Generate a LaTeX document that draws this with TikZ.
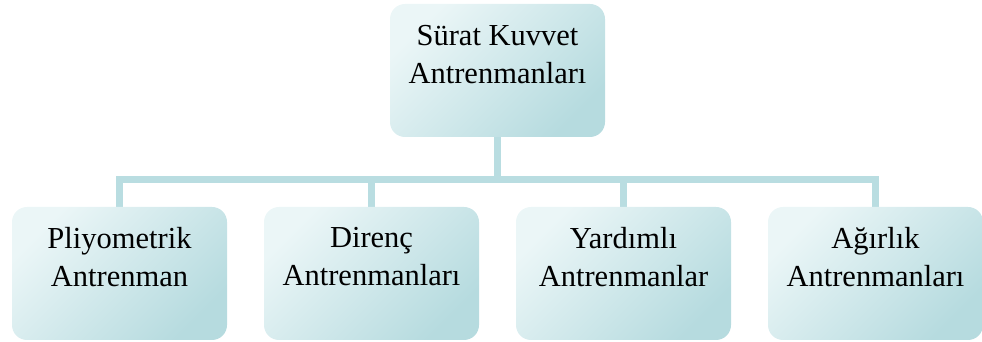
\documentclass[tikz,border=0pt]{standalone}
\usepackage{fontspec}
\setmainfont{Liberation Serif}
\definecolor{boxlight}{HTML}{EBF6F7}
\definecolor{boxmid}{HTML}{E1F0F2}
\definecolor{boxdark}{HTML}{B6DBDF}
\definecolor{conn}{HTML}{B9DDE1}
\tikzset{
  orgbox/.style={rounded corners=15pt, minimum width=215pt, minimum height=133pt,
    inner sep=0pt, shading=axis, top color=boxlight, middle color=boxmid,
    bottom color=boxdark, shading angle=45},
  orgtext/.style={anchor=north, inner sep=0pt, align=center,
    font=\fontsize{30.5}{38.5}\selectfont},
  orgline/.style={draw=conn, line width=7pt, line join=miter}
}
\begin{document}
\begin{tikzpicture}[x=1pt,y=1pt]
\useasboundingbox (0,0) rectangle (982,342);
\coordinate (bar) at (497.5,162.5);
% placement frames
\path (497.5,271.5) node[minimum width=215pt, minimum height=133pt, inner sep=0pt] (t) {};
\path (119.5,68.5) node[minimum width=215pt, minimum height=133pt, inner sep=0pt] (b1) {};
\path (371.5,68.5) node[minimum width=215pt, minimum height=133pt, inner sep=0pt] (b2) {};
\path (623.5,68.5) node[minimum width=215pt, minimum height=133pt, inner sep=0pt] (b3) {};
\path (875.5,68.5) node[minimum width=215pt, minimum height=133pt, inner sep=0pt] (b4) {};
% connectors
\draw[orgline] (t.south) -- (bar);
\draw[orgline] (b1.north) -- (b1.north |- bar) -- (b4.north |- bar) -- (b4.north);
\draw[orgline] (b2.north |- bar) -- (b2.north);
\draw[orgline] (b3.north |- bar) -- (b3.north);
% boxes
\node[orgbox] (tb) at (t) {};
\node[orgbox] (b1b) at (b1) {};
\node[orgbox] (b2b) at (b2) {};
\node[orgbox] (b3b) at (b3) {};
\node[orgbox] (b4b) at (b4) {};
% texts
\node[orgtext] (tt) at ([yshift=-21pt]tb.north) {Sürat Kuvvet\\Antrenmanları};
\node[orgtext] (t1) at ([yshift=-20pt]b1b.north) {Pliyometrik\\Antrenman};
\node[orgtext] (t2) at ([yshift=-20pt]b2b.north) {Direnç\\Antrenmanları};
\node[orgtext] (t3) at ([yshift=-20pt]b3b.north) {Yardımlı\\Antrenmanlar};
\node[orgtext] (t4) at ([yshift=-20pt]b4b.north) {Ağırlık\\Antrenmanları};
\end{tikzpicture}
\end{document}
